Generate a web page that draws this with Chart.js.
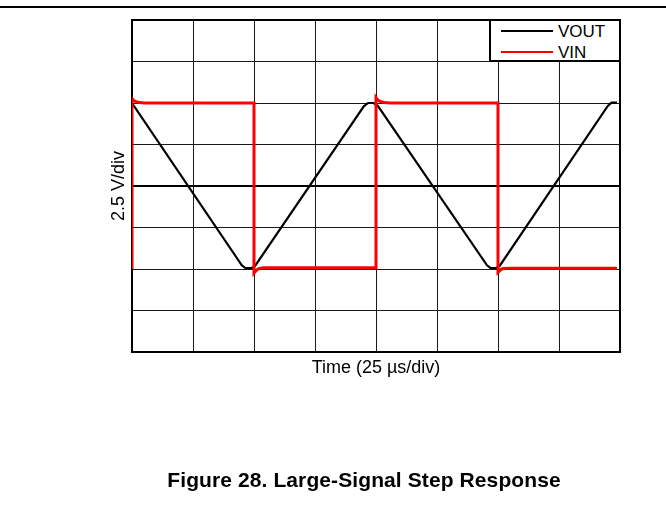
<!DOCTYPE html>
<html>
<head>
<meta charset="utf-8">
<script src="https://cdn.jsdelivr.net/npm/chart.js@4"></script>
<style>
  body{margin:0;background:#fff;font-family:"Liberation Sans",Arial,sans-serif;}
  #wrap{position:relative;width:666px;height:523px;overflow:hidden;}
  #rule{position:absolute;left:0;top:6px;width:666px;height:2px;background:#000;}
  #legend{position:absolute;left:489px;top:19px;width:132px;height:43px;box-sizing:border-box;border:2px solid #000;background:#fff;}
  .lg{position:absolute;left:10px;width:52px;height:2px;}
  .lt{position:absolute;left:67px;font-size:17px;line-height:17px;color:#000;}
  #caption{position:absolute;top:469px;left:364px;transform:translateX(-50%);white-space:nowrap;font-weight:bold;font-size:21px;line-height:21px;color:#000;letter-spacing:0.1px;}
</style>
</head>
<body>
<div id="wrap">
  <canvas id="c" width="666" height="523"></canvas>
  <div id="rule"></div>
  <div id="legend">
    <div class="lg" style="top:9px;background:#000"></div><span class="lt" style="top:2px">VOUT</span>
    <div class="lg" style="top:30px;background:#ff0000"></div><span class="lt" style="top:23px">VIN</span>
  </div>
  <div id="caption">Figure 28. Large-Signal Step Response</div>
</div>
<script>
// time in divisions (25 us/div), voltage in divisions (2.5 V/div), 0 = bottom of screen
const voutT = [0, 1.80, 1.86, 1.96, 2.02, 3.80, 3.87, 3.96, 4.03, 5.82, 5.88, 5.97, 6.03, 7.80, 7.86, 7.95];
const voutV = [6.0, 2.09, 2.02, 2.02, 2.08, 5.92, 6.0, 6.0, 5.93, 2.09, 2.02, 2.02, 2.08, 5.93, 6.01, 6.01];

const vinT = [0, 0, 0.03, 0.07, 0.12, 0.2, 2.0, 2.0, 2.04, 2.08, 2.15, 4.0, 4.0, 4.03, 4.08, 4.14, 4.23, 6.0, 6.0, 6.04, 6.08, 6.2, 7.95];
const vinV = [2.0, 6.11, 6.06, 6.03, 6.01, 6.0, 6.0, 1.9, 1.97, 2.01, 2.03, 2.03, 6.13, 6.07, 6.03, 6.01, 6.0, 6.0, 1.92, 1.98, 2.01, 2.02, 2.02];

const xTitle = 'Time (25 µs/div)';
const yTitle = '2.5 V/div';

function pts(t, v){ return t.map((x,i)=>({x:x, y:v[i]})); }

// heavier lines: screen frame and the centre (ground) line
const heavyX = [0, 8];
const heavyY = [0, 4, 8];
const isHeavy = (list)=> (ctx)=> ctx.tick && list.includes(ctx.tick.value);

new Chart(document.getElementById('c').getContext('2d'), {
  type:'scatter',
  data:{datasets:[
    {label:'VOUT', data:pts(voutT,voutV), showLine:true, borderColor:'#000', borderWidth:2.2, pointRadius:0, tension:0, order:2},
    {label:'VIN', data:pts(vinT,vinV), showLine:true, borderColor:'#ff0000', borderWidth:3, pointRadius:0, tension:0, order:1}
  ]},
  options:{
    responsive:false,
    animation:false,
    events:[],
    layout:{padding:{left:108.2, right:46, top:20, bottom:144.4}},
    plugins:{legend:{display:false}, tooltip:{enabled:false}},
    scales:{
      x:{
        type:'linear', min:0, max:8,
        ticks:{display:false, stepSize:1},
        grid:{color:(c)=>isHeavy(heavyX)(c)?'#000':'#1a1a1a', lineWidth:(c)=>isHeavy(heavyX)(c)?2:1, drawTicks:false},
        border:{display:true, color:'#000', width:2},
        title:{display:true, text:xTitle, color:'#000', font:{family:'"Liberation Sans", Arial, sans-serif', size:18}, padding:{top:5, bottom:0}}
      },
      y:{
        type:'linear', min:0, max:8,
        ticks:{display:false, stepSize:1},
        grid:{color:(c)=>isHeavy(heavyY)(c)?'#000':'#1a1a1a', lineWidth:(c)=>isHeavy(heavyY)(c)?2:1, drawTicks:false},
        border:{display:true, color:'#000', width:2},
        title:{display:true, text:yTitle, color:'#000', font:{family:'"Liberation Sans", Arial, sans-serif', size:18}, padding:{top:0, bottom:2.2}}
      }
    }
  }
});
</script>
</body>
</html>
